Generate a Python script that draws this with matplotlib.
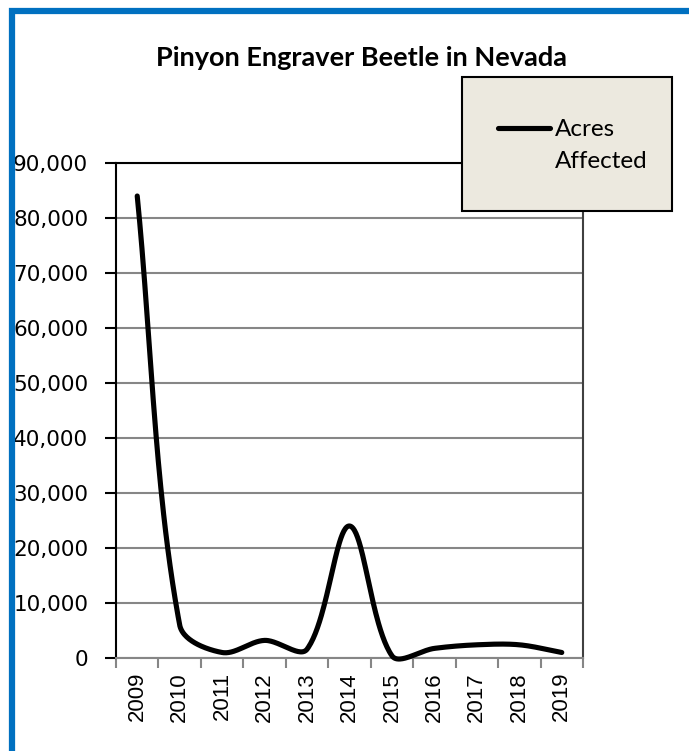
import numpy as np
import matplotlib
matplotlib.use("Agg")
import matplotlib.pyplot as plt
from matplotlib.patches import Rectangle
from matplotlib.lines import Line2D
from matplotlib.ticker import FuncFormatter, FixedLocator

# Data
years = ["2009", "2010", "2011", "2012", "2013", "2014", "2015", "2016", "2017", "2018", "2019"]
acres_affected = [84000, 6000, 1000, 3200, 1600, 24000, 400, 1750, 2400, 2400, 1000]

title = "Pinyon Engraver Beetle in Nevada"
series_label = ["Acres", "Affected"]


def smooth_curve(x, y, sx, sy, steps=50):
    """Bezier smoothing with tangents weighted by neighbouring segment lengths,
    computed in screen-like units (sx, sy scale data to pixels)."""
    P = np.column_stack([np.asarray(x, float) * sx, np.asarray(y, float) * sy])
    n = len(P)
    out = []
    for i in range(n - 1):
        p1, p2 = P[i], P[i + 1]
        p0 = P[i - 1] if i > 0 else p1
        p3 = P[i + 2] if i + 2 < n else p2
        d1 = np.linalg.norm(p1 - p0)
        d2 = np.linalg.norm(p2 - p1)
        d3 = np.linalg.norm(p3 - p2)
        c1 = p1 + (p2 - p0) * (d2 / (d1 + d2) if d1 + d2 > 0 else 0) / 3.0 if i > 0 else p1 + (p2 - p1) / 3.0
        c2 = p2 - (p3 - p1) * (d2 / (d2 + d3) if d2 + d3 > 0 else 0) / 3.0 if i + 2 < n else p2 - (p2 - p1) / 3.0
        t = np.linspace(0, 1, steps)[:, None]
        seg = ((1 - t) ** 3) * p1 + 3 * ((1 - t) ** 2) * t * c1 + 3 * (1 - t) * t ** 2 * c2 + t ** 3 * p2
        out.append(seg if i == 0 else seg[1:])
    pts = np.vstack(out)
    return pts[:, 0] / sx, pts[:, 1] / sy


W, H = 689, 751
fig = plt.figure(figsize=(W / 100, H / 100), dpi=100)

# Blue outer frame
fig.patches.append(Rectangle((12 / W, -0.05), 1.2, 1 - 11 / H + 0.05, transform=fig.transFigure,
                             fill=False, edgecolor="#0070C0", linewidth=4.5, zorder=0))

left, right, top, bottom = 116, 583, 163, 658
ax = fig.add_axes([left / W, 1 - bottom / H, (right - left) / W, (bottom - top) / H])

x = np.arange(len(years))
px_per_cat = (right - left) / len(years)
px_per_unit = (bottom - top) / 90000
cx, cy = smooth_curve(x, acres_affected, px_per_cat, px_per_unit)
ax.plot(cx, cy, color="black", linewidth=3.7, solid_capstyle="round", clip_on=False, zorder=5)

ax.set_xlim(-0.5, len(years) - 0.5)
ax.set_ylim(0, 90000)
ax.set_yticks(np.arange(0, 90001, 10000))
ax.yaxis.set_major_formatter(FuncFormatter(lambda v, p: f"{int(v):,}"))
ax.grid(axis="y", color="#868686", linewidth=1.5)
ax.set_axisbelow(True)

# Category labels centred, tick marks on the boundaries
ax.set_xticks(x)
ax.set_xticklabels(years, rotation=90, fontsize=16, family="Liberation Sans")
ax.tick_params(axis="x", which="major", length=0, pad=10)
ax.xaxis.set_minor_locator(FixedLocator(np.arange(-0.5, len(years), 1.0)))
ax.tick_params(axis="x", which="minor", length=7, width=1.5, color="#868686")
ax.tick_params(axis="y", length=8, width=1.5, color="black", labelsize=15.5, pad=12)
for lab in ax.get_yticklabels():
    lab.set_family("DejaVu Sans")

ax.spines["left"].set_color("black")
ax.spines["left"].set_linewidth(1.5)
ax.spines["top"].set_color("black")
ax.spines["top"].set_linewidth(1.5)
ax.spines["right"].set_color("#404040")
ax.spines["right"].set_linewidth(1.5)
ax.spines["bottom"].set_color("#868686")
ax.spines["bottom"].set_linewidth(1.5)

fig.text(362 / W, 1 - 58 / H, title, ha="center", va="center", fontsize=19.5,
         fontweight="bold", family="Lato")

# Legend box
lx0, ly0, lx1, ly1 = 462, 77, 672, 211
fig.patches.append(Rectangle((lx0 / W, 1 - ly1 / H), (lx1 - lx0) / W, (ly1 - ly0) / H,
                             transform=fig.transFigure, facecolor="#ECE9DF", edgecolor="black",
                             linewidth=1.5, zorder=10))
fig.lines.append(Line2D([498 / W, 550 / W], [1 - 128 / H, 1 - 128 / H], transform=fig.transFigure,
                        color="black", linewidth=3.7, solid_capstyle="round", zorder=11))
for row, text in enumerate(series_label):
    fig.text(555 / W, 1 - (128 + 32 * row) / H, text, ha="left", va="center_baseline",
             fontsize=17.5, family="Lato", zorder=12)

fig.savefig("out.png", dpi=100)
